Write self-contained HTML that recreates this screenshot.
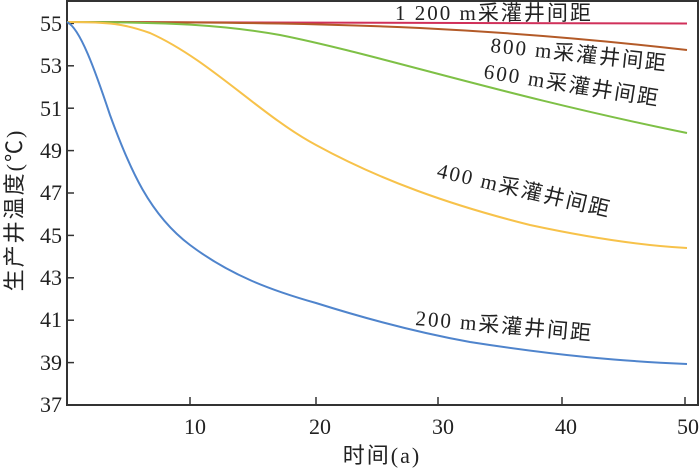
<!DOCTYPE html>
<html><head><meta charset="utf-8"><style>
html,body{margin:0;padding:0;background:#fff;}
svg{display:block;font-family:"Liberation Serif","Noto Serif CJK SC",serif;}
.t{font-size:22px;fill:#222;}
.l{font-size:21px;fill:#222;letter-spacing:2px;font-family:"Liberation Serif","Noto Sans CJK SC",serif;}
</style></head><body>
<svg width="700" height="469" viewBox="0 0 700 469">
<rect x="67" y="1" width="631" height="404" fill="none" stroke="#333" stroke-width="2"/>
<g stroke="#333" stroke-width="1.5">
<line x1="67" y1="23.4" x2="74" y2="23.4"/><line x1="67" y1="65.8" x2="74" y2="65.8"/>
<line x1="67" y1="108.2" x2="74" y2="108.2"/><line x1="67" y1="150.6" x2="74" y2="150.6"/>
<line x1="67" y1="193" x2="74" y2="193"/><line x1="67" y1="235.4" x2="74" y2="235.4"/>
<line x1="67" y1="277.8" x2="74" y2="277.8"/><line x1="67" y1="320.2" x2="74" y2="320.2"/>
<line x1="67" y1="362.6" x2="74" y2="362.6"/>
<line x1="190" y1="405" x2="190" y2="397"/><line x1="316" y1="405" x2="316" y2="397"/>
<line x1="438" y1="405" x2="438" y2="397"/><line x1="562" y1="405" x2="562" y2="397"/>
<line x1="685" y1="405" x2="685" y2="397"/>
</g>
<g class="t" text-anchor="end">
<text x="62" y="31">55</text><text x="62" y="73">53</text><text x="62" y="116">51</text>
<text x="62" y="158">49</text><text x="62" y="200">47</text><text x="62" y="243">45</text>
<text x="62" y="285">43</text><text x="62" y="327">41</text><text x="62" y="370">39</text>
<text x="62" y="412">37</text>
</g>
<g class="t" text-anchor="middle">
<text x="195" y="434">10</text><text x="320" y="434">20</text><text x="443" y="434">30</text>
<text x="566" y="434">40</text><text x="688" y="434">50</text>
<text x="382" y="463" letter-spacing="2" font-family="Liberation Serif,Noto Sans CJK SC,serif">时间(a)</text>
<text transform="translate(22,210) rotate(-90)" letter-spacing="2" font-family="Liberation Serif,Noto Sans CJK SC,serif">生产井温度(℃)</text>
</g>
<g fill="none" stroke-width="2">
<path d="M67,22 L687,23.5" stroke="#d0305a"/>
<path d="M67,22 C250,22 330,24 420,28 C520,33 600,40 687,50" stroke="#b35a28"/>
<path d="M67,22 C180,22 230,26 280,35 C380,55 500,95 687,133" stroke="#7ec046"/>
<path d="M67,22 C110,22 125,24 150,33 C210,60 260,115 316,145 C380,180 450,205 530,225 C600,240 650,246 687,248" stroke="#f7c24a"/>
<path d="M67,22 C80,28 95,70 110,115 C130,170 150,215 190,245 C230,275 270,290 316,303 C370,320 420,333 470,342 C560,356 620,361 687,364" stroke="#4f84cc"/>
</g>
<text class="l" x="395" y="20">1 200 m采灌井间距</text>
<text class="l" transform="translate(490,52) rotate(6)">800 m采灌井间距</text>
<text class="l" transform="translate(483,78) rotate(9)">600 m采灌井间距</text>
<text class="l" transform="translate(436,177) rotate(13)">400 m采灌井间距</text>
<text class="l" transform="translate(415,325) rotate(5)">200 m采灌井间距</text>
</svg>
</body></html>
